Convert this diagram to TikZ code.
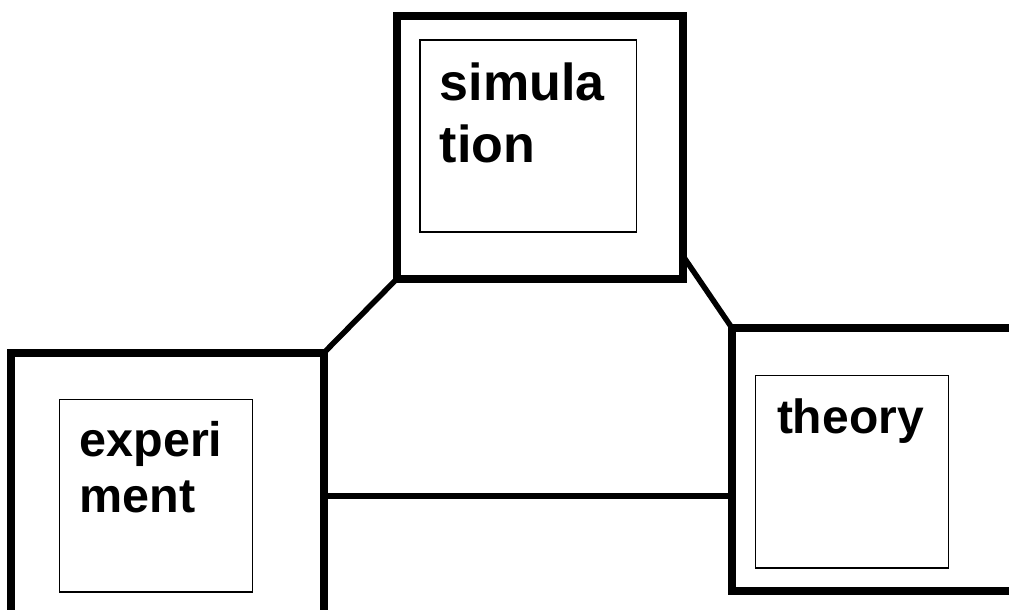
\documentclass[tikz,border=0pt]{standalone}
\usepackage{fontspec}
\setmainfont{Liberation Sans}
\begin{document}
\begin{tikzpicture}[x=1pt,y=-1pt,
  outerbox/.style={draw=black, line width=8pt, rectangle, outer sep=0pt, inner sep=0pt, fill=white},
  innerbox/.style={draw=black, line width=1.5pt, rectangle, outer sep=0pt, inner sep=0pt},
  link/.style={draw=black, line width=5.5pt},
  lbl/.style={inner sep=0pt, outer sep=0pt, anchor=base west, font=\bfseries}
]
\clip (0,0) rectangle (1009,610);
\fill[white] (0,0) rectangle (1009,610);

% outer frames
\node[outerbox, minimum width=286.3pt, minimum height=263pt] (sim) at (539.85,147.5) {};
\node[outerbox, minimum width=312.7pt, minimum height=286.6pt] (exp) at (167.65,496) {};
\node[outerbox, minimum width=330pt, minimum height=263pt] (theo) at (897,459.5) {};

% connectors between the frames
\coordinate (simr) at ([yshift=23pt]sim.south east);
\draw[link] (sim.south west) -- (exp.north east);
\draw[link] (simr) -- (theo.north west);
\draw[link] (exp.east) -- (exp.east -| theo.west);

% redraw frame borders over connector ends
\node[outerbox, fill=none, minimum width=286.3pt, minimum height=263pt] at (sim.center) {};
\node[outerbox, fill=none, minimum width=312.7pt, minimum height=286.6pt] at (exp.center) {};
\node[outerbox, fill=none, minimum width=330pt, minimum height=263pt] at (theo.center) {};

% inner boxes
\node[innerbox, minimum width=216.5pt, minimum height=192pt] (simin) at (528.25,136) {};
\node[innerbox, minimum width=193pt, minimum height=192.5pt] (expin) at (156,495.75) {};
\node[innerbox, minimum width=193pt, minimum height=192.5pt] (theoin) at (852,471.75) {};

% labels
\node[lbl, font=\bfseries\fontsize{52}{62}\selectfont] (simA) at (439.8,100) {simula};
\node[lbl, font=\bfseries\fontsize{52}{62}\selectfont] (simB) at (439.8,162) {tion};
\node[lbl, font=\bfseries\fontsize{48.5}{56}\selectfont] (expA) at (79.5,456) {experi};
\node[lbl, font=\bfseries\fontsize{48.5}{56}\selectfont] (expB) at (79.5,512) {ment};
\node[lbl, font=\bfseries\fontsize{48}{56}\selectfont] (theoA) at (777,433) {theory};
\end{tikzpicture}
\end{document}
